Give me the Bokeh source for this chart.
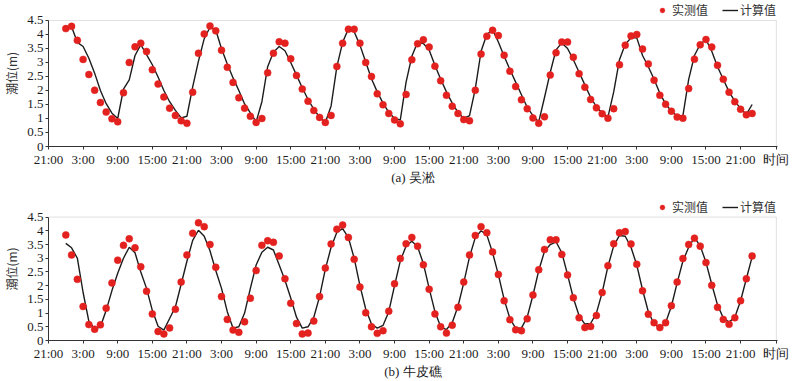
from bokeh.plotting import figure
from bokeh.models import Range1d, FixedTicker, Legend, LegendItem, BoxAnnotation
from bokeh.layouts import column
from bokeh.embed import file_html
from bokeh.resources import INLINE

# ---------------- data ----------------
hours = list(range(3, 123))  # hourly samples, hours after 21:00 of day 1

x_ticks = list(range(0, 121, 6))
x_tick_labels = ["21:00", "3:00", "9:00", "15:00", "21:00", "3:00", "9:00", "15:00",
                 "21:00", "3:00", "9:00", "15:00", "21:00", "3:00", "9:00", "15:00",
                 "21:00", "3:00", "9:00", "15:00", "21:00"]
y_ticks = [0, 0.5, 1, 1.5, 2, 2.5, 3, 3.5, 4, 4.5]
y_tick_labels = ["0", "0.5", "1", "1.5", "2", "2.5", "3", "3.5", "4", "4.5"]

wusong_obs = [4.21, 4.29, 3.79, 3.11, 2.57, 2.01, 1.57, 1.23, 0.99, 0.88,
              1.92, 3.00, 3.56, 3.69, 3.39, 2.74, 2.23, 1.77, 1.37, 1.11,
              0.92, 0.83, 1.94, 3.33, 4.02, 4.30, 4.13, 3.44, 2.83, 2.29,
              1.74, 1.37, 1.08, 0.86, 1.00, 2.63, 3.33, 3.74, 3.69, 3.13,
              2.54, 2.05, 1.62, 1.29, 1.04, 0.86, 1.11, 2.86, 3.69, 4.19,
              4.19, 3.69, 3.00, 2.50, 1.88, 1.49, 1.18, 0.95, 0.81, 1.86,
              3.10, 3.67, 3.81, 3.55, 2.87, 2.35, 1.83, 1.44, 1.18, 0.96,
              0.92, 2.01, 3.30, 3.94, 4.15, 3.96, 3.26, 2.69, 2.14, 1.67,
              1.35, 1.02, 0.83, 1.06, 2.55, 3.35, 3.73, 3.73, 3.19, 2.60,
              2.12, 1.68, 1.38, 1.17, 1.01, 1.35, 2.92, 3.62, 3.95, 4.00,
              3.48, 2.95, 2.37, 1.83, 1.51, 1.26, 1.05, 1.01, 2.07, 3.12,
              3.63, 3.82, 3.55, 2.90, 2.40, 1.94, 1.60, 1.33, 1.13, 1.18]

wusong_calc = [4.25, 4.28, 3.72, 3.57, 3.15, 2.62, 2.00, 1.53, 1.19, 1.00,
               2.05, 2.38, 3.25, 3.64, 3.28, 2.92, 2.48, 2.00, 1.60, 1.29,
               1.02, 1.08, 2.13, 3.05, 3.85, 4.26, 4.16, 3.49, 2.95, 2.45,
               2.00, 1.52, 1.20, 0.88, 1.60, 2.85, 3.37, 3.57, 3.42, 3.00,
               2.55, 2.10, 1.68, 1.33, 1.05, 0.86, 1.45, 2.85, 3.72, 4.20,
               4.10, 3.62, 3.02, 2.42, 1.95, 1.55, 1.22, 1.00, 0.95, 2.30,
               3.22, 3.72, 3.68, 3.45, 2.90, 2.40, 1.95, 1.55, 1.22, 1.00,
               1.10, 2.06, 3.40, 4.00, 4.17, 3.73, 3.22, 2.75, 2.30, 1.85,
               1.40, 1.10, 0.88, 1.75, 2.65, 3.45, 3.70, 3.50, 3.10, 2.65,
               2.20, 1.75, 1.42, 1.20, 1.05, 1.95, 3.10, 3.65, 3.88, 3.88,
               3.25, 2.85, 2.40, 1.90, 1.52, 1.26, 1.10, 1.10, 2.40, 3.25,
               3.65, 3.82, 3.40, 2.85, 2.40, 1.95, 1.62, 1.35, 1.15, 1.50]

niupijiao_obs = [3.85, 3.12, 2.23, 1.24, 0.58, 0.41, 0.57, 1.18, 2.10, 2.93,
                 3.47, 3.71, 3.38, 2.69, 1.80, 0.97, 0.33, 0.24, 0.46, 1.14,
                 2.13, 3.12, 3.91, 4.29, 4.15, 3.50, 2.67, 1.60, 0.77, 0.38,
                 0.30, 0.68, 1.54, 2.55, 3.47, 3.64, 3.58, 3.08, 2.25, 1.36,
                 0.62, 0.24, 0.27, 0.71, 1.60, 2.64, 3.52, 4.06, 4.21, 3.76,
                 2.96, 1.95, 1.01, 0.50, 0.26, 0.36, 1.07, 2.07, 2.99, 3.53,
                 3.76, 3.44, 2.76, 1.87, 0.97, 0.50, 0.27, 0.56, 1.21, 2.13,
                 3.12, 3.83, 4.15, 3.93, 3.23, 2.41, 1.45, 0.76, 0.39, 0.36,
                 0.79, 1.66, 2.58, 3.32, 3.67, 3.67, 3.14, 2.39, 1.56, 0.83,
                 0.47, 0.51, 0.91, 1.75, 2.73, 3.53, 3.93, 3.97, 3.52, 2.78,
                 1.81, 0.96, 0.65, 0.47, 0.65, 1.27, 2.13, 2.99, 3.50, 3.73,
                 3.44, 2.84, 2.01, 1.21, 0.77, 0.59, 0.83, 1.45, 2.25, 3.08]

niupijiao_calc = [3.54, 3.38, 3.00, 1.75, 0.70, 0.42, 0.50, 1.10, 1.82, 2.45,
                  3.00, 3.40, 3.20, 2.50, 1.90, 1.10, 0.52, 0.38, 0.80, 1.22,
                  2.05, 2.89, 3.65, 4.02, 3.80, 3.27, 2.55, 1.90, 1.05, 0.45,
                  0.50, 1.00, 1.90, 2.75, 3.22, 3.40, 3.30, 2.75, 2.20, 1.55,
                  0.85, 0.45, 0.50, 0.85, 1.60, 2.60, 3.40, 3.95, 4.08, 3.75,
                  3.00, 2.00, 1.15, 0.60, 0.45, 0.55, 1.05, 2.00, 2.90, 3.45,
                  3.62, 3.42, 2.80, 1.90, 1.05, 0.50, 0.40, 0.65, 1.25, 2.10,
                  3.05, 3.75, 4.00, 3.85, 3.20, 2.40, 1.50, 0.80, 0.45, 0.45,
                  0.85, 1.65, 2.55, 3.25, 3.50, 3.60, 3.20, 2.40, 1.55, 0.90,
                  0.60, 0.62, 1.00, 1.75, 2.70, 3.45, 3.83, 3.80, 3.40, 2.75,
                  1.85, 1.05, 0.60, 0.47, 0.65, 1.25, 2.10, 2.90, 3.40, 3.75,
                  3.45, 2.85, 2.05, 1.30, 0.82, 0.67, 0.85, 1.45, 2.25, 3.05]

legend_labels = ["实测值", "计算值"]
captions = ["(a) 吴淞", "(b) 牛皮礁"]
y_title = "潮位(m)"
x_title = "时间"

# ---------------- styling / geometry ----------------
RED = "#e3211f"
INK = "#1c1c1c"
SERIF = "Liberation Serif"
CJK = "Noto Sans CJK SC"
X_END = 126.4        # right edge of the frame (hours)
BOX_RIGHT = 126.2    # right border of the plotting box
Y_TOP = 5.214        # frame top, leaves room for the legend above the 4.5 border


def make_panel(obs, calc, caption, height, bottom):
    p = figure(width=792, height=height, output_backend="svg", toolbar_location=None,
               x_range=Range1d(0, X_END), y_range=Range1d(0, Y_TOP),
               min_border_left=44, min_border_right=15, min_border_top=0,
               min_border_bottom=bottom, background_fill_color="white",
               border_fill_color="white")
    p.xgrid.visible = False
    p.ygrid.visible = False
    p.outline_line_color = None

    box = BoxAnnotation(left=0, right=BOX_RIGHT, bottom=0, top=4.5, fill_alpha=0,
                        line_color="#9a9a9a", line_width=1, level="underlay")
    p.add_layout(box)

    ln = p.line(hours, calc, line_color=INK, line_width=1.4)
    sc = p.scatter(hours, obs, size=7, fill_color=RED, line_color=RED, line_width=0.5)

    xa = p.xaxis[0]
    xa.ticker = FixedTicker(ticks=x_ticks + [BOX_RIGHT])
    overrides = {t: lab for t, lab in zip(x_ticks, x_tick_labels)}
    overrides[BOX_RIGHT] = x_title
    xa.major_label_overrides = overrides
    xa.minor_tick_line_color = None
    xa.major_tick_out = 3
    xa.major_tick_in = 0
    xa.major_label_standoff = 2
    xa.major_label_text_font = SERIF
    xa.major_label_text_font_size = "13px"
    xa.major_label_text_line_height = 1.0
    xa.major_label_text_color = INK
    xa.axis_line_color = "#333333"
    xa.major_tick_line_color = "#333333"
    xa.axis_label = caption
    xa.axis_label_text_font = SERIF
    xa.axis_label_text_font_style = "normal"
    xa.axis_label_text_font_size = "13px"
    xa.axis_label_text_line_height = 1.0
    xa.axis_label_text_color = INK
    xa.axis_label_standoff = 0

    ya = p.yaxis[0]
    ya.bounds = (0, 4.5)
    ya.ticker = FixedTicker(ticks=y_ticks)
    ya.major_label_overrides = {t: lab for t, lab in zip(y_ticks, y_tick_labels)}
    ya.minor_tick_line_color = None
    ya.major_tick_out = 3
    ya.major_tick_in = 0
    ya.major_label_standoff = 2
    ya.major_label_text_font = SERIF
    ya.major_label_text_font_size = "13px"
    ya.major_label_text_color = INK
    ya.axis_line_color = "#333333"
    ya.major_tick_line_color = "#333333"
    ya.axis_label = y_title
    ya.axis_label_text_font = CJK
    ya.axis_label_text_font_style = "normal"
    ya.axis_label_text_font_size = "12px"
    ya.axis_label_text_color = "#333333"
    ya.axis_label_standoff = 4

    legend = Legend(items=[LegendItem(label=legend_labels[0], renderers=[sc]),
                           LegendItem(label=legend_labels[1], renderers=[ln])],
                    orientation="horizontal", location="top_right",
                    label_text_font=CJK, label_text_font_size="12px",
                    label_text_color="#333333", border_line_color=None,
                    background_fill_alpha=0, padding=0, margin=1, spacing=14,
                    glyph_width=16, glyph_height=12, label_standoff=2,
                    label_height=14)
    p.add_layout(legend)
    return p


p1 = make_panel(wusong_obs, wusong_calc, captions[0], 197, 51)
p2 = make_panel(niupijiao_obs, niupijiao_calc, captions[1], 184, 38)

layout = column(p1, p2, spacing=0)
open("out.html", "w").write(file_html(layout, INLINE))
